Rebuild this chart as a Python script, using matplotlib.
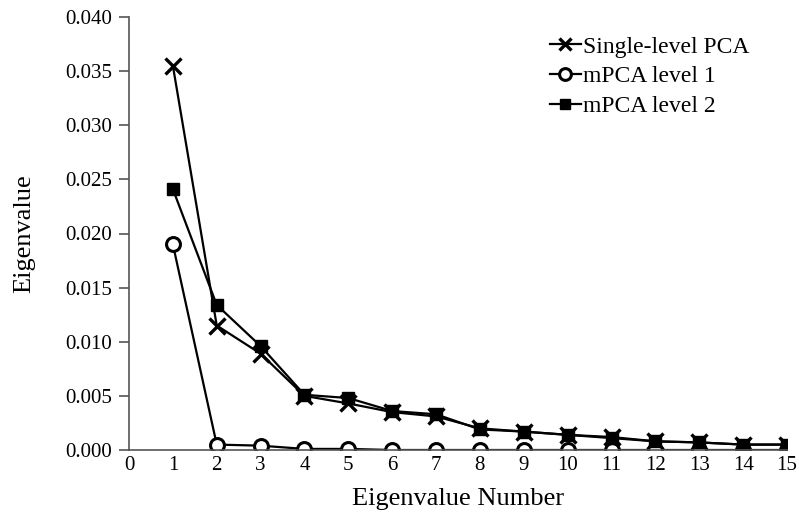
import numpy as np
import matplotlib
matplotlib.use('Agg')
import matplotlib.pyplot as plt

plt.rcParams['font.family'] = ['Liberation Serif', 'DejaVu Serif']

eig_num = list(range(1, 16))
single_pca = [0.0355, 0.0115, 0.0089, 0.0050, 0.0043, 0.0035, 0.0031, 0.0020,
              0.0017, 0.0014, 0.0012, 0.0008, 0.0007, 0.0005, 0.0005]
mpca_l1 = [0.0190, 0.0005, 0.0004, 0.0001, 0.0001, 0.0000, 0.0000, 0.0000,
           0.0000, 0.0000, 0.0000, 0.0000, 0.0000, 0.0000, 0.0000]
mpca_l2 = [0.0241, 0.0134, 0.0096, 0.0051, 0.0048, 0.0036, 0.0033, 0.0019,
           0.0017, 0.0014, 0.0011, 0.0008, 0.0007, 0.0005, 0.0005]

fig = plt.figure(figsize=(7.99, 5.16), dpi=100)
ax = fig.add_axes([129/799, 66/516, (787-129)/799, (450-17)/516])

ax.plot(eig_num, single_pca, color='black', lw=1.6, marker='x', ms=11, mew=2.4,
        label='Single-level PCA')
ax.plot(eig_num, mpca_l1, color='black', lw=1.6, marker='o', ms=10, mew=2.2,
        mfc='white', label='mPCA level 1')
ax.plot(eig_num, mpca_l2, color='black', lw=1.6, marker='s', ms=8,
        label='mPCA level 2')

ax.set_xlim(0, 15)
ax.set_ylim(0, 0.040)
ax.set_xticks(range(0, 16))
ax.set_yticks(np.arange(0, 0.0401, 0.005))
ax.yaxis.set_major_formatter(matplotlib.ticker.FormatStrFormatter('%.3f'))
ax.tick_params(axis='y', direction='out', length=7, width=1.2, color='#555555',
               labelsize=15, pad=5)
ax.tick_params(axis='x', length=0, labelsize=15, pad=4)
for s in ['top', 'right']:
    ax.spines[s].set_visible(False)
ax.spines['left'].set_color('#555555')
ax.spines['left'].set_linewidth(1.2)
ax.spines['bottom'].set_color('#555555')
ax.spines['bottom'].set_linewidth(1.2)

ax.set_xlabel('Eigenvalue Number', fontsize=19, labelpad=10)
ax.set_ylabel('Eigenvalue', fontsize=19, labelpad=22)

ax.legend(loc='upper right', bbox_to_anchor=(0.975, 1.005), frameon=False,
          fontsize=17, handlelength=1.3, handletextpad=0.1, labelspacing=0.35,
          markerscale=0.85)

fig.savefig('out.png', dpi=100)
